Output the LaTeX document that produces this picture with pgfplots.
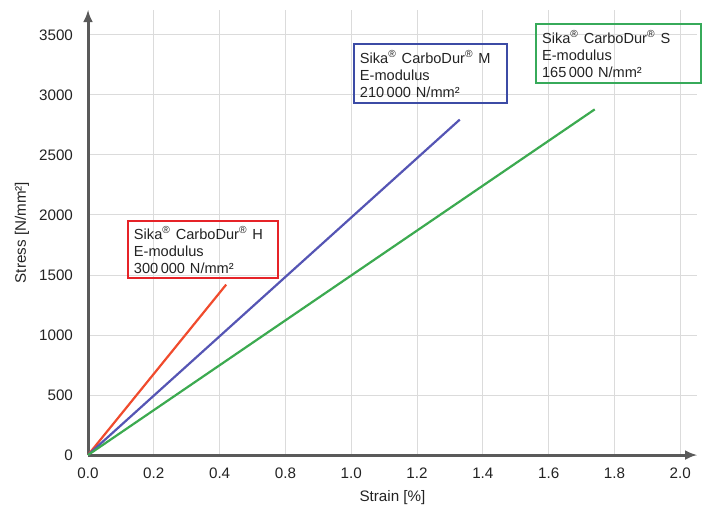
\documentclass[border=0pt]{standalone}
\usepackage{fontspec}
\setmainfont{Liberation Sans}
\usepackage{pgfplots}
\pgfplotsset{compat=1.18}
\usetikzlibrary{arrows.meta}
\definecolor{cred}{RGB}{240,75,45}
\definecolor{cblue}{RGB}{85,85,180}
\definecolor{cgreen}{RGB}{60,170,80}
\definecolor{bred}{RGB}{230,35,40}
\definecolor{bblue}{RGB}{60,75,165}
\definecolor{bgreen}{RGB}{55,170,90}
\definecolor{axgray}{RGB}{90,90,90}
\definecolor{txt}{RGB}{35,35,35}
\begin{document}
\begin{tikzpicture}
\begin{axis}[
  scale only axis,
  width=304.5pt, height=222.5pt,
  axis lines=left,
  axis line style={-{Latex[length=6pt,width=5pt]}, line width=1.5pt, draw=axgray},
  x coord trafo/.code={\pgfmathparse{ifthenelse(#1<=0.4, #1, ifthenelse(#1<=0.8, 0.4+(#1-0.4)/2, #1-0.2))}},
  x coord inv trafo/.code={\pgfmathparse{ifthenelse(#1<=0.4, #1, ifthenelse(#1<=0.6, 0.4+(#1-0.4)*2, #1+0.2))}},
  xmin=0, xmax=2.051,
  ymin=0, ymax=3708,
  xtick={0,0.2,0.4,0.8,1.0,1.2,1.4,1.6,1.8,2.0},
  xticklabels={0.0,0.2,0.4,0.8,1.0,1.2,1.4,1.6,1.8,2.0},
  ytick={0,500,...,3500},
  /pgf/number format/1000 sep={},
  /pgf/number format/assume math mode=true,
  major tick length=0pt,
  grid=major,
  major grid style={line width=0.5pt, draw=black!14},
  tick label style={font=\fontsize{7.6}{8.5}\selectfont, text=txt},
  yticklabel style={xshift=-4pt},
  xticklabel style={yshift=-3pt},
  label style={font=\fontsize{7.6}{8.5}\selectfont, text=txt},
  xlabel={Strain [\%]},
  ylabel={Stress [N/mm²]},
  xlabel style={at={(rel axis cs:0.5,0)}, anchor=north, yshift=-14pt},
  ylabel style={at={(rel axis cs:0,0.5)}, anchor=south, yshift=26pt},
  clip=false,
]
\addplot[cred, line width=1.1pt] coordinates {(0,0) (0.44,1420)};
\addplot[cblue, line width=1.1pt] coordinates {(0,0) (1.33,2795)};
\addplot[cgreen, line width=1.1pt] coordinates {(0,0) (1.74,2880)};

\node[draw=bred, line width=1pt, anchor=north west, align=left, text width=69pt,
      inner xsep=3pt, inner ysep=2.5pt, font=\fontsize{7.3}{8.5}\selectfont, text=txt]
  at (rel axis cs:0.064,0.528)
  {Sika\textsuperscript{®} CarboDur\textsuperscript{®} H\\E-modulus\\300\,000 N/mm²};
\node[draw=bblue, line width=1pt, anchor=north west, align=left, text width=70.5pt,
      inner xsep=3pt, inner ysep=3pt, font=\fontsize{7.3}{8.5}\selectfont, text=txt]
  at (rel axis cs:0.435,0.926)
  {Sika\textsuperscript{®} CarboDur\textsuperscript{®} M\\E-modulus\\210\,000 N/mm²};
\node[draw=bgreen, line width=1pt, anchor=north west, align=left, text width=76.5pt,
      inner xsep=3pt, inner ysep=3pt, font=\fontsize{7.3}{8.5}\selectfont, text=txt]
  at (rel axis cs:0.734,0.971)
  {Sika\textsuperscript{®} CarboDur\textsuperscript{®} S\\E-modulus\\165\,000 N/mm²};

\path (rel axis cs:-0.1445,-0.1146) rectangle (rel axis cs:1.0131,1.0225);
\end{axis}
\end{tikzpicture}
\end{document}
